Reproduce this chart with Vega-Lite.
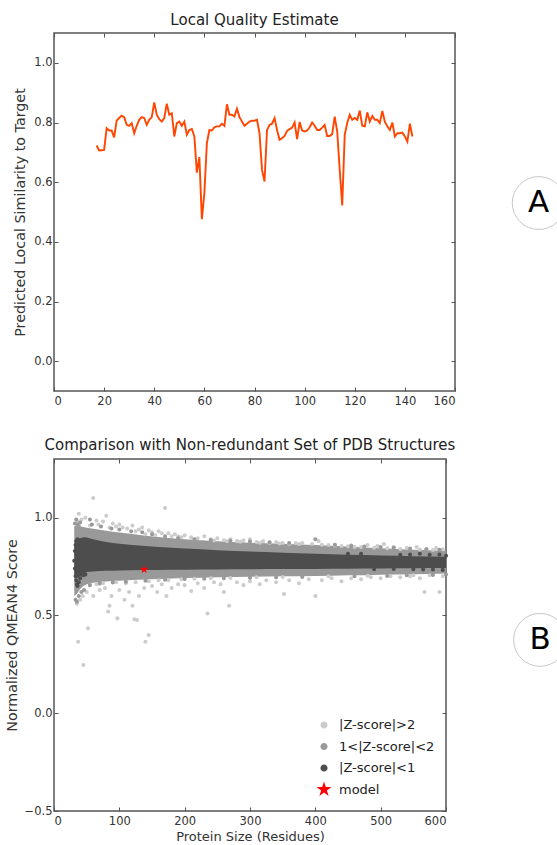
{
  "$schema": "https://vega.github.io/schema/vega-lite/v6.json",
  "background": "white",
  "padding": {"left": 4, "top": 11, "right": 0, "bottom": 0},
  "spacing": 68,
  "bounds": "flush",
  "config": {
    "font": "DejaVu Sans",
    "view": {"stroke": "#555555", "strokeWidth": 1.5},
    "axis": {"grid": false, "domain": false, "tickColor": "#555555", "tickSize": -4, "labelColor": "#333333", "labelFontSize": 11.5, "titleColor": "#333333", "titleFontSize": 13, "titleFontWeight": "normal"},
    "axisX": {"labelPadding": 8},
    "axisY": {"titleFontSize": 14.3, "labelPadding": 6},
    "title": {"fontSize": 15, "fontWeight": "normal", "color": "#222222"}
  },
  "datasets": {
    "lqe": [
      {"residue":17,"score":0.723},{"residue":18,"score":0.706},{"residue":19,"score":0.707},{"residue":20,"score":0.708},{"residue":21,"score":0.781},{"residue":22,"score":0.773},{"residue":23,"score":0.773},{"residue":24,"score":0.75},{"residue":25,"score":0.806},{"residue":26,"score":0.815},{"residue":27,"score":0.823},{"residue":28,"score":0.818},{"residue":29,"score":0.792},{"residue":30,"score":0.789},{"residue":31,"score":0.798},{"residue":32,"score":0.764},{"residue":33,"score":0.789},{"residue":34,"score":0.809},{"residue":35,"score":0.818},{"residue":36,"score":0.815},{"residue":37,"score":0.792},{"residue":38,"score":0.809},{"residue":39,"score":0.818},{"residue":40,"score":0.867},{"residue":41,"score":0.826},{"residue":42,"score":0.811},{"residue":43,"score":0.803},{"residue":44,"score":0.815},{"residue":45,"score":0.863},{"residue":46,"score":0.826},{"residue":47,"score":0.831},{"residue":48,"score":0.753},{"residue":49,"score":0.798},{"residue":50,"score":0.803},{"residue":51,"score":0.789},{"residue":52,"score":0.803},{"residue":53,"score":0.759},{"residue":54,"score":0.775},{"residue":55,"score":0.778},{"residue":56,"score":0.753},{"residue":57,"score":0.632},{"residue":58,"score":0.684},{"residue":59,"score":0.476},{"residue":60,"score":0.563},{"residue":61,"score":0.731},{"residue":62,"score":0.775},{"residue":63,"score":0.773},{"residue":64,"score":0.784},{"residue":65,"score":0.787},{"residue":66,"score":0.787},{"residue":67,"score":0.796},{"residue":68,"score":0.789},{"residue":69,"score":0.861},{"residue":70,"score":0.826},{"residue":71,"score":0.826},{"residue":72,"score":0.82},{"residue":73,"score":0.846},{"residue":74,"score":0.818},{"residue":75,"score":0.803},{"residue":76,"score":0.789},{"residue":77,"score":0.796},{"residue":78,"score":0.803},{"residue":79,"score":0.806},{"residue":80,"score":0.806},{"residue":81,"score":0.809},{"residue":82,"score":0.764},{"residue":83,"score":0.641},{"residue":84,"score":0.602},{"residue":85,"score":0.775},{"residue":86,"score":0.792},{"residue":87,"score":0.796},{"residue":88,"score":0.815},{"residue":89,"score":0.775},{"residue":90,"score":0.742},{"residue":91,"score":0.747},{"residue":92,"score":0.755},{"residue":93,"score":0.772},{"residue":94,"score":0.778},{"residue":95,"score":0.783},{"residue":96,"score":0.8},{"residue":97,"score":0.744},{"residue":98,"score":0.802},{"residue":99,"score":0.773},{"residue":100,"score":0.77},{"residue":101,"score":0.773},{"residue":102,"score":0.784},{"residue":103,"score":0.8},{"residue":104,"score":0.789},{"residue":105,"score":0.775},{"residue":106,"score":0.775},{"residue":107,"score":0.783},{"residue":108,"score":0.792},{"residue":109,"score":0.755},{"residue":110,"score":0.755},{"residue":111,"score":0.761},{"residue":112,"score":0.82},{"residue":113,"score":0.77},{"residue":114,"score":0.641},{"residue":115,"score":0.522},{"residue":116,"score":0.759},{"residue":117,"score":0.798},{"residue":118,"score":0.826},{"residue":119,"score":0.809},{"residue":120,"score":0.815},{"residue":121,"score":0.809},{"residue":122,"score":0.84},{"residue":123,"score":0.789},{"residue":124,"score":0.787},{"residue":125,"score":0.834},{"residue":126,"score":0.803},{"residue":127,"score":0.822},{"residue":128,"score":0.809},{"residue":129,"score":0.809},{"residue":130,"score":0.798},{"residue":131,"score":0.839},{"residue":132,"score":0.803},{"residue":133,"score":0.787},{"residue":134,"score":0.775},{"residue":135,"score":0.8},{"residue":136,"score":0.753},{"residue":137,"score":0.764},{"residue":138,"score":0.764},{"residue":139,"score":0.766},{"residue":140,"score":0.753},{"residue":141,"score":0.736},{"residue":142,"score":0.796},{"residue":143,"score":0.753}
    ],
    "bands": [
      {"x":31,"dlo":0.70,"dhi":0.86,"mlo":0.60,"mhi":0.955},
      {"x":35,"dlo":0.69,"dhi":0.89,"mlo":0.61,"mhi":0.96},
      {"x":40,"dlo":0.70,"dhi":0.895,"mlo":0.635,"mhi":0.955},
      {"x":45,"dlo":0.715,"dhi":0.90,"mlo":0.65,"mhi":0.952},
      {"x":50,"dlo":0.722,"dhi":0.898,"mlo":0.66,"mhi":0.948},
      {"x":60,"dlo":0.725,"dhi":0.89,"mlo":0.667,"mhi":0.943},
      {"x":70,"dlo":0.727,"dhi":0.882,"mlo":0.671,"mhi":0.938},
      {"x":80,"dlo":0.728,"dhi":0.875,"mlo":0.674,"mhi":0.933},
      {"x":90,"dlo":0.729,"dhi":0.87,"mlo":0.676,"mhi":0.928},
      {"x":100,"dlo":0.73,"dhi":0.866,"mlo":0.678,"mhi":0.924},
      {"x":120,"dlo":0.731,"dhi":0.86,"mlo":0.681,"mhi":0.916},
      {"x":140,"dlo":0.732,"dhi":0.855,"mlo":0.684,"mhi":0.908},
      {"x":160,"dlo":0.733,"dhi":0.85,"mlo":0.687,"mhi":0.901},
      {"x":180,"dlo":0.734,"dhi":0.846,"mlo":0.689,"mhi":0.895},
      {"x":200,"dlo":0.734,"dhi":0.842,"mlo":0.691,"mhi":0.89},
      {"x":225,"dlo":0.735,"dhi":0.838,"mlo":0.693,"mhi":0.885},
      {"x":250,"dlo":0.735,"dhi":0.834,"mlo":0.695,"mhi":0.88},
      {"x":275,"dlo":0.736,"dhi":0.83,"mlo":0.697,"mhi":0.876},
      {"x":300,"dlo":0.736,"dhi":0.827,"mlo":0.698,"mhi":0.872},
      {"x":325,"dlo":0.737,"dhi":0.824,"mlo":0.699,"mhi":0.869},
      {"x":350,"dlo":0.737,"dhi":0.821,"mlo":0.70,"mhi":0.866},
      {"x":375,"dlo":0.738,"dhi":0.818,"mlo":0.701,"mhi":0.863},
      {"x":400,"dlo":0.738,"dhi":0.815,"mlo":0.702,"mhi":0.86},
      {"x":425,"dlo":0.739,"dhi":0.813,"mlo":0.703,"mhi":0.856},
      {"x":450,"dlo":0.739,"dhi":0.811,"mlo":0.705,"mhi":0.852},
      {"x":475,"dlo":0.74,"dhi":0.809,"mlo":0.706,"mhi":0.848},
      {"x":500,"dlo":0.74,"dhi":0.807,"mlo":0.708,"mhi":0.844},
      {"x":525,"dlo":0.741,"dhi":0.805,"mlo":0.709,"mhi":0.84},
      {"x":550,"dlo":0.741,"dhi":0.803,"mlo":0.711,"mhi":0.836},
      {"x":575,"dlo":0.742,"dhi":0.802,"mlo":0.712,"mhi":0.833},
      {"x":600,"dlo":0.742,"dhi":0.80,"mlo":0.714,"mhi":0.83}
    ],
    "pts": [
      {"x":60,"y":1.10,"cat":"|Z-score|>2"},{"x":170,"y":1.05,"cat":"|Z-score|>2"},{"x":38,"y":1.02,"cat":"|Z-score|>2"},{"x":42,"y":0.99,"cat":"|Z-score|>2"},{"x":80,"y":1.01,"cat":"|Z-score|>2"},{"x":90,"y":0.97,"cat":"|Z-score|>2"},{"x":75,"y":0.98,"cat":"|Z-score|>2"},{"x":48,"y":1.00,"cat":"|Z-score|>2"},{"x":36,"y":0.98,"cat":"|Z-score|>2"},{"x":55,"y":0.96,"cat":"|Z-score|>2"},{"x":68,"y":0.965,"cat":"|Z-score|>2"},{"x":95,"y":0.955,"cat":"|Z-score|>2"},{"x":105,"y":0.95,"cat":"|Z-score|>2"},{"x":112,"y":0.945,"cat":"|Z-score|>2"},{"x":120,"y":0.96,"cat":"|Z-score|>2"},{"x":130,"y":0.94,"cat":"|Z-score|>2"},{"x":135,"y":0.95,"cat":"|Z-score|>2"},{"x":145,"y":0.935,"cat":"|Z-score|>2"},{"x":150,"y":0.925,"cat":"|Z-score|>2"},{"x":160,"y":0.93,"cat":"|Z-score|>2"},{"x":165,"y":0.92,"cat":"|Z-score|>2"},{"x":175,"y":0.92,"cat":"|Z-score|>2"},{"x":185,"y":0.915,"cat":"|Z-score|>2"},{"x":190,"y":0.905,"cat":"|Z-score|>2"},{"x":200,"y":0.91,"cat":"|Z-score|>2"},{"x":210,"y":0.9,"cat":"|Z-score|>2"},{"x":220,"y":0.895,"cat":"|Z-score|>2"},{"x":230,"y":0.905,"cat":"|Z-score|>2"},{"x":240,"y":0.89,"cat":"|Z-score|>2"},{"x":250,"y":0.895,"cat":"|Z-score|>2"},{"x":260,"y":0.885,"cat":"|Z-score|>2"},{"x":270,"y":0.89,"cat":"|Z-score|>2"},{"x":280,"y":0.88,"cat":"|Z-score|>2"},{"x":290,"y":0.885,"cat":"|Z-score|>2"},{"x":300,"y":0.89,"cat":"|Z-score|>2"},{"x":310,"y":0.875,"cat":"|Z-score|>2"},{"x":320,"y":0.88,"cat":"|Z-score|>2"},{"x":330,"y":0.87,"cat":"|Z-score|>2"},{"x":340,"y":0.875,"cat":"|Z-score|>2"},{"x":350,"y":0.87,"cat":"|Z-score|>2"},{"x":360,"y":0.865,"cat":"|Z-score|>2"},{"x":370,"y":0.87,"cat":"|Z-score|>2"},{"x":380,"y":0.87,"cat":"|Z-score|>2"},{"x":395,"y":0.865,"cat":"|Z-score|>2"},{"x":405,"y":0.88,"cat":"|Z-score|>2"},{"x":420,"y":0.86,"cat":"|Z-score|>2"},{"x":440,"y":0.855,"cat":"|Z-score|>2"},{"x":460,"y":0.85,"cat":"|Z-score|>2"},{"x":480,"y":0.86,"cat":"|Z-score|>2"},{"x":495,"y":0.855,"cat":"|Z-score|>2"},{"x":505,"y":0.865,"cat":"|Z-score|>2"},{"x":520,"y":0.85,"cat":"|Z-score|>2"},{"x":540,"y":0.845,"cat":"|Z-score|>2"},{"x":555,"y":0.85,"cat":"|Z-score|>2"},{"x":570,"y":0.84,"cat":"|Z-score|>2"},{"x":585,"y":0.845,"cat":"|Z-score|>2"},{"x":595,"y":0.838,"cat":"|Z-score|>2"},{"x":100,"y":0.965,"cat":"|Z-score|>2"},{"x":125,"y":0.93,"cat":"|Z-score|>2"},{"x":85,"y":0.95,"cat":"|Z-score|>2"},{"x":65,"y":0.985,"cat":"|Z-score|>2"},{"x":140,"y":0.915,"cat":"|Z-score|>2"},{"x":155,"y":0.91,"cat":"|Z-score|>2"},{"x":180,"y":0.905,"cat":"|Z-score|>2"},{"x":195,"y":0.9,"cat":"|Z-score|>2"},{"x":215,"y":0.89,"cat":"|Z-score|>2"},{"x":245,"y":0.883,"cat":"|Z-score|>2"},{"x":265,"y":0.879,"cat":"|Z-score|>2"},{"x":285,"y":0.877,"cat":"|Z-score|>2"},{"x":315,"y":0.872,"cat":"|Z-score|>2"},{"x":345,"y":0.868,"cat":"|Z-score|>2"},{"x":375,"y":0.865,"cat":"|Z-score|>2"},{"x":410,"y":0.862,"cat":"|Z-score|>2"},{"x":430,"y":0.858,"cat":"|Z-score|>2"},{"x":450,"y":0.854,"cat":"|Z-score|>2"},{"x":470,"y":0.85,"cat":"|Z-score|>2"},{"x":490,"y":0.846,"cat":"|Z-score|>2"},{"x":510,"y":0.843,"cat":"|Z-score|>2"},{"x":530,"y":0.84,"cat":"|Z-score|>2"},{"x":560,"y":0.837,"cat":"|Z-score|>2"},{"x":580,"y":0.835,"cat":"|Z-score|>2"},
      {"x":37,"y":0.366,"cat":"|Z-score|>2"},{"x":45,"y":0.247,"cat":"|Z-score|>2"},{"x":52,"y":0.434,"cat":"|Z-score|>2"},{"x":140,"y":0.366,"cat":"|Z-score|>2"},{"x":145,"y":0.40,"cat":"|Z-score|>2"},{"x":127,"y":0.477,"cat":"|Z-score|>2"},{"x":123,"y":0.48,"cat":"|Z-score|>2"},{"x":97,"y":0.485,"cat":"|Z-score|>2"},{"x":85,"y":0.55,"cat":"|Z-score|>2"},{"x":83,"y":0.52,"cat":"|Z-score|>2"},{"x":120,"y":0.55,"cat":"|Z-score|>2"},{"x":235,"y":0.51,"cat":"|Z-score|>2"},{"x":268,"y":0.55,"cat":"|Z-score|>2"},{"x":567,"y":0.62,"cat":"|Z-score|>2"},{"x":590,"y":0.62,"cat":"|Z-score|>2"},{"x":400,"y":0.60,"cat":"|Z-score|>2"},{"x":352,"y":0.61,"cat":"|Z-score|>2"},{"x":40,"y":0.58,"cat":"|Z-score|>2"},{"x":35,"y":0.56,"cat":"|Z-score|>2"},{"x":44,"y":0.6,"cat":"|Z-score|>2"},{"x":50,"y":0.62,"cat":"|Z-score|>2"},{"x":60,"y":0.6,"cat":"|Z-score|>2"},{"x":70,"y":0.63,"cat":"|Z-score|>2"},{"x":78,"y":0.64,"cat":"|Z-score|>2"},{"x":88,"y":0.6,"cat":"|Z-score|>2"},{"x":100,"y":0.63,"cat":"|Z-score|>2"},{"x":108,"y":0.58,"cat":"|Z-score|>2"},{"x":115,"y":0.62,"cat":"|Z-score|>2"},{"x":130,"y":0.6,"cat":"|Z-score|>2"},{"x":138,"y":0.64,"cat":"|Z-score|>2"},{"x":150,"y":0.65,"cat":"|Z-score|>2"},{"x":158,"y":0.62,"cat":"|Z-score|>2"},{"x":165,"y":0.66,"cat":"|Z-score|>2"},{"x":172,"y":0.6,"cat":"|Z-score|>2"},{"x":180,"y":0.64,"cat":"|Z-score|>2"},{"x":190,"y":0.66,"cat":"|Z-score|>2"},{"x":200,"y":0.655,"cat":"|Z-score|>2"},{"x":210,"y":0.625,"cat":"|Z-score|>2"},{"x":220,"y":0.665,"cat":"|Z-score|>2"},{"x":230,"y":0.64,"cat":"|Z-score|>2"},{"x":245,"y":0.67,"cat":"|Z-score|>2"},{"x":255,"y":0.66,"cat":"|Z-score|>2"},{"x":260,"y":0.62,"cat":"|Z-score|>2"},{"x":280,"y":0.67,"cat":"|Z-score|>2"},{"x":290,"y":0.655,"cat":"|Z-score|>2"},{"x":300,"y":0.675,"cat":"|Z-score|>2"},{"x":315,"y":0.66,"cat":"|Z-score|>2"},{"x":325,"y":0.68,"cat":"|Z-score|>2"},{"x":340,"y":0.67,"cat":"|Z-score|>2"},{"x":360,"y":0.68,"cat":"|Z-score|>2"},{"x":375,"y":0.665,"cat":"|Z-score|>2"},{"x":390,"y":0.685,"cat":"|Z-score|>2"},{"x":410,"y":0.68,"cat":"|Z-score|>2"},{"x":425,"y":0.69,"cat":"|Z-score|>2"},{"x":440,"y":0.675,"cat":"|Z-score|>2"},{"x":455,"y":0.69,"cat":"|Z-score|>2"},{"x":470,"y":0.685,"cat":"|Z-score|>2"},{"x":485,"y":0.695,"cat":"|Z-score|>2"},{"x":500,"y":0.69,"cat":"|Z-score|>2"},{"x":515,"y":0.70,"cat":"|Z-score|>2"},{"x":530,"y":0.695,"cat":"|Z-score|>2"},{"x":545,"y":0.70,"cat":"|Z-score|>2"},{"x":560,"y":0.69,"cat":"|Z-score|>2"},{"x":575,"y":0.705,"cat":"|Z-score|>2"},{"x":595,"y":0.70,"cat":"|Z-score|>2"},{"x":65,"y":0.66,"cat":"|Z-score|>2"},{"x":75,"y":0.665,"cat":"|Z-score|>2"},{"x":95,"y":0.67,"cat":"|Z-score|>2"},{"x":110,"y":0.665,"cat":"|Z-score|>2"},{"x":125,"y":0.67,"cat":"|Z-score|>2"},{"x":145,"y":0.675,"cat":"|Z-score|>2"},{"x":160,"y":0.68,"cat":"|Z-score|>2"},{"x":175,"y":0.68,"cat":"|Z-score|>2"},{"x":195,"y":0.685,"cat":"|Z-score|>2"},{"x":215,"y":0.688,"cat":"|Z-score|>2"},{"x":240,"y":0.69,"cat":"|Z-score|>2"},{"x":270,"y":0.692,"cat":"|Z-score|>2"},{"x":310,"y":0.695,"cat":"|Z-score|>2"},{"x":350,"y":0.697,"cat":"|Z-score|>2"},{"x":420,"y":0.70,"cat":"|Z-score|>2"},{"x":480,"y":0.703,"cat":"|Z-score|>2"},{"x":550,"y":0.706,"cat":"|Z-score|>2"},
      {"x":32,"y":0.97,"cat":"1<|Z-score|<2"},{"x":34,"y":0.99,"cat":"1<|Z-score|<2"},{"x":36,"y":0.965,"cat":"1<|Z-score|<2"},{"x":38,"y":0.955,"cat":"1<|Z-score|<2"},{"x":40,"y":0.975,"cat":"1<|Z-score|<2"},{"x":33,"y":0.58,"cat":"1<|Z-score|<2"},{"x":35,"y":0.57,"cat":"1<|Z-score|<2"},{"x":38,"y":0.60,"cat":"1<|Z-score|<2"},{"x":42,"y":0.62,"cat":"1<|Z-score|<2"},{"x":46,"y":0.63,"cat":"1<|Z-score|<2"},{"x":55,"y":0.99,"cat":"1<|Z-score|<2"},{"x":58,"y":0.965,"cat":"1<|Z-score|<2"},{"x":72,"y":0.955,"cat":"1<|Z-score|<2"},{"x":88,"y":0.945,"cat":"1<|Z-score|<2"},{"x":100,"y":0.94,"cat":"1<|Z-score|<2"},{"x":118,"y":0.93,"cat":"1<|Z-score|<2"},{"x":135,"y":0.925,"cat":"1<|Z-score|<2"},{"x":150,"y":0.915,"cat":"1<|Z-score|<2"},{"x":170,"y":0.905,"cat":"1<|Z-score|<2"},{"x":190,"y":0.895,"cat":"1<|Z-score|<2"},{"x":215,"y":0.89,"cat":"1<|Z-score|<2"},{"x":240,"y":0.886,"cat":"1<|Z-score|<2"},{"x":270,"y":0.882,"cat":"1<|Z-score|<2"},{"x":300,"y":0.878,"cat":"1<|Z-score|<2"},{"x":330,"y":0.874,"cat":"1<|Z-score|<2"},{"x":360,"y":0.871,"cat":"1<|Z-score|<2"},{"x":400,"y":0.89,"cat":"1<|Z-score|<2"},{"x":430,"y":0.861,"cat":"1<|Z-score|<2"},{"x":455,"y":0.857,"cat":"1<|Z-score|<2"},{"x":475,"y":0.853,"cat":"1<|Z-score|<2"},{"x":500,"y":0.85,"cat":"1<|Z-score|<2"},{"x":520,"y":0.846,"cat":"1<|Z-score|<2"},{"x":545,"y":0.842,"cat":"1<|Z-score|<2"},{"x":570,"y":0.839,"cat":"1<|Z-score|<2"},{"x":590,"y":0.836,"cat":"1<|Z-score|<2"},{"x":55,"y":0.655,"cat":"1<|Z-score|<2"},{"x":70,"y":0.663,"cat":"1<|Z-score|<2"},{"x":90,"y":0.668,"cat":"1<|Z-score|<2"},{"x":110,"y":0.672,"cat":"1<|Z-score|<2"},{"x":140,"y":0.678,"cat":"1<|Z-score|<2"},{"x":170,"y":0.683,"cat":"1<|Z-score|<2"},{"x":200,"y":0.686,"cat":"1<|Z-score|<2"},{"x":230,"y":0.688,"cat":"1<|Z-score|<2"},{"x":260,"y":0.69,"cat":"1<|Z-score|<2"},{"x":300,"y":0.693,"cat":"1<|Z-score|<2"},{"x":340,"y":0.695,"cat":"1<|Z-score|<2"},{"x":380,"y":0.697,"cat":"1<|Z-score|<2"},{"x":460,"y":0.70,"cat":"1<|Z-score|<2"},{"x":510,"y":0.702,"cat":"1<|Z-score|<2"},{"x":540,"y":0.705,"cat":"1<|Z-score|<2"},{"x":580,"y":0.707,"cat":"1<|Z-score|<2"},{"x":600,"y":0.709,"cat":"1<|Z-score|<2"},
      {"x":33,"y":0.86,"cat":"|Z-score|<1"},{"x":32,"y":0.83,"cat":"|Z-score|<1"},{"x":31,"y":0.78,"cat":"|Z-score|<1"},{"x":32,"y":0.74,"cat":"|Z-score|<1"},{"x":33,"y":0.70,"cat":"|Z-score|<1"},{"x":34,"y":0.68,"cat":"|Z-score|<1"},{"x":35,"y":0.66,"cat":"|Z-score|<1"},{"x":36,"y":0.65,"cat":"|Z-score|<1"},{"x":38,"y":0.67,"cat":"|Z-score|<1"},{"x":40,"y":0.69,"cat":"|Z-score|<1"},{"x":37,"y":0.72,"cat":"|Z-score|<1"},{"x":42,"y":0.71,"cat":"|Z-score|<1"},{"x":45,"y":0.705,"cat":"|Z-score|<1"},{"x":48,"y":0.71,"cat":"|Z-score|<1"},{"x":34,"y":0.88,"cat":"|Z-score|<1"},{"x":36,"y":0.89,"cat":"|Z-score|<1"},{"x":560,"y":0.815,"cat":"|Z-score|<1"},{"x":575,"y":0.81,"cat":"|Z-score|<1"},{"x":590,"y":0.812,"cat":"|Z-score|<1"},{"x":600,"y":0.805,"cat":"|Z-score|<1"},{"x":545,"y":0.812,"cat":"|Z-score|<1"},{"x":530,"y":0.81,"cat":"|Z-score|<1"},{"x":580,"y":0.735,"cat":"|Z-score|<1"},{"x":595,"y":0.733,"cat":"|Z-score|<1"},{"x":565,"y":0.735,"cat":"|Z-score|<1"},{"x":550,"y":0.736,"cat":"|Z-score|<1"},{"x":520,"y":0.737,"cat":"|Z-score|<1"},{"x":490,"y":0.736,"cat":"|Z-score|<1"},{"x":470,"y":0.815,"cat":"|Z-score|<1"},{"x":450,"y":0.816,"cat":"|Z-score|<1"},
      {"x":138,"y":0.735,"cat":"model"}
    ]
  },
  "vconcat": [
    {
      "width": 401,
      "height": 358,
      "title": {"text": "Local Quality Estimate", "offset": 5},
      "layer": [
        {
          "data": {"name": "lqe"},
          "mark": {"type": "line", "color": "#ff4500", "strokeWidth": 1.9},
          "encoding": {
            "x": {"field": "residue", "type": "quantitative", "scale": {"domain": [0, 160], "nice": false, "zero": false}, "axis": {"orient": "bottom", "values": [0, 20, 40, 60, 80, 100, 120, 140, 160], "title": null}},
            "y": {"field": "score", "type": "quantitative", "scale": {"domain": [-0.1, 1.1], "nice": false, "zero": false}, "axis": {"orient": "left", "values": [0, 0.2, 0.4, 0.6, 0.8, 1.0], "format": ".1f", "title": "Predicted Local Similarity to Target", "titlePadding": 6}}
          }
        },
        {
          "data": {"values": [{"x": 193.4, "y": 0.53, "label": "A"}]},
          "mark": {"type": "point", "shape": "circle", "size": 2800, "filled": true, "fill": "white", "stroke": "#c8c8c8", "strokeWidth": 1, "opacity": 1, "clip": false},
          "encoding": {
            "x": {"field": "x", "type": "quantitative", "axis": {"orient": "top", "values": [0, 20, 40, 60, 80, 100, 120, 140, 160], "labels": false, "title": null}},
            "y": {"field": "y", "type": "quantitative", "axis": {"orient": "right", "values": [0, 0.2, 0.4, 0.6, 0.8, 1.0], "labels": false, "title": null}}
          }
        },
        {
          "data": {"values": [{"x": 193.4, "y": 0.53, "label": "A"}]},
          "mark": {"type": "text", "fontSize": 31, "color": "#000000", "baseline": "middle", "align": "center", "clip": false},
          "encoding": {
            "x": {"field": "x", "type": "quantitative", "axis": null},
            "y": {"field": "y", "type": "quantitative", "axis": null},
            "text": {"field": "label"}
          }
        }
      ],
      "resolve": {"axis": {"x": "independent", "y": "independent"}}
    },
    {
      "width": 392,
      "height": 352,
      "title": {"text": "Comparison with Non-redundant Set of PDB Structures", "offset": 6},
      "layer": [
        {
          "data": {"name": "bands"},
          "mark": {"type": "area", "color": "#999999", "opacity": 1},
          "encoding": {
            "x": {"field": "x", "type": "quantitative", "scale": {"domain": [0, 600], "nice": false, "zero": false}, "axis": {"orient": "bottom", "values": [0, 100, 200, 300, 400, 500, 600], "title": "Protein Size (Residues)", "titlePadding": 4}},
            "y": {"field": "mlo", "type": "quantitative", "scale": {"domain": [-0.5, 1.3], "nice": false, "zero": false}, "axis": {"orient": "left", "values": [-0.5, 0, 0.5, 1.0], "format": ".1f", "title": "Normalized QMEAN4 Score", "titlePadding": 5}},
            "y2": {"field": "mhi"}
          }
        },
        {
          "data": {"name": "bands"},
          "mark": {"type": "area", "color": "#4d4d4d", "opacity": 1},
          "encoding": {
            "x": {"field": "x", "type": "quantitative", "axis": null},
            "y": {"field": "dlo", "type": "quantitative", "axis": null},
            "y2": {"field": "dhi"}
          }
        },
        {
          "data": {"name": "pts"},
          "mark": {"type": "point", "filled": true, "size": 80, "opacity": 1, "strokeWidth": 0},
          "encoding": {
            "x": {"field": "x", "type": "quantitative", "axis": null},
            "y": {"field": "y", "type": "quantitative", "axis": null},
            "color": {"field": "cat", "type": "nominal", "scale": {"domain": ["|Z-score|>2", "1<|Z-score|<2", "|Z-score|<1", "model"], "range": ["#cccccc", "#999999", "#4d4d4d", "#ff0000"]},
              "legend": {"title": null, "orient": "none", "legendX": 262, "legendY": 684, "symbolSize": 250, "labelFontSize": 13, "labelColor": "#222222", "rowPadding": 6.5, "labelOffset": 7, "padding": 0, "symbolStrokeWidth": 0, "symbolOpacity": 1}},
            "shape": {"field": "cat", "type": "nominal", "scale": {"domain": ["|Z-score|>2", "1<|Z-score|<2", "|Z-score|<1", "model"], "range": ["M-0.45,0A0.45,0.45,0,1,0,0.45,0A0.45,0.45,0,1,0,-0.45,0Z", "M-0.45,0A0.45,0.45,0,1,0,0.45,0A0.45,0.45,0,1,0,-0.45,0Z", "M-0.45,0A0.45,0.45,0,1,0,0.45,0A0.45,0.45,0,1,0,-0.45,0Z", "M0,-1L0.2245,-0.309L0.951,-0.309L0.363,0.118L0.588,0.809L0,0.382L-0.588,0.809L-0.363,0.118L-0.951,-0.309L-0.2245,-0.309Z"]},
              "legend": {"title": null, "orient": "none", "legendX": 262, "legendY": 684, "symbolSize": 250, "labelFontSize": 13, "labelColor": "#222222", "rowPadding": 6.5, "labelOffset": 7, "padding": 0, "symbolStrokeWidth": 0, "symbolOpacity": 1}}
          }
        },
        {
          "data": {"values": [{"x": 744, "y": 0.375, "label": "B"}]},
          "mark": {"type": "point", "shape": "circle", "size": 2800, "filled": true, "fill": "white", "stroke": "#c8c8c8", "strokeWidth": 1, "opacity": 1, "clip": false},
          "encoding": {
            "x": {"field": "x", "type": "quantitative", "axis": {"orient": "top", "values": [0, 100, 200, 300, 400, 500, 600], "labels": false, "title": null}},
            "y": {"field": "y", "type": "quantitative", "axis": {"orient": "right", "values": [-0.5, 0, 0.5, 1.0], "labels": false, "title": null}}
          }
        },
        {
          "data": {"values": [{"x": 744, "y": 0.375, "label": "B"}]},
          "mark": {"type": "text", "fontSize": 31, "color": "#000000", "baseline": "middle", "align": "center", "clip": false},
          "encoding": {
            "x": {"field": "x", "type": "quantitative", "axis": null},
            "y": {"field": "y", "type": "quantitative", "axis": null},
            "text": {"field": "label"}
          }
        }
      ],
      "resolve": {"axis": {"x": "independent", "y": "independent"}}
    }
  ]
}
